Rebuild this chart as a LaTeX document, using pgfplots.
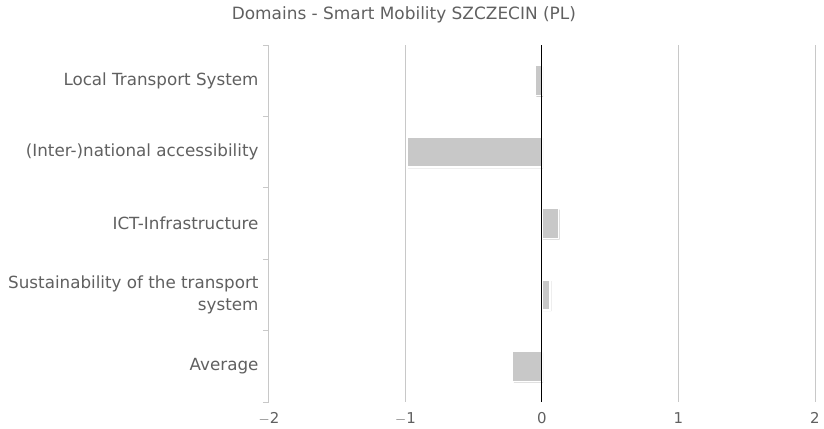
\documentclass[border=0pt]{standalone}
\usepackage{pgfplots}
\pgfplotsset{compat=1.18}
\usepackage{fontspec}
\setmainfont{DejaVu Sans}
\usetikzlibrary{shadows}
\definecolor{txt}{HTML}{606060}
\definecolor{gridc}{HTML}{C8C8C8}
\definecolor{barc}{HTML}{C8C8C8}
\begin{document}
\begin{tikzpicture}
\begin{axis}[
  scale only axis,
  width=546bp, height=357bp,
  xmin=-2, xmax=2,
  ymin=-0.5, ymax=4.5,
  y dir=reverse,
  xtick={-2,-1,0,1,2},
  xticklabels={$-$2,$-$1,0,1,2},
  ytick={0,1,2,3,4},
  yticklabels={Local Transport System,(Inter-)national accessibility,ICT-Infrastructure,{Sustainability of the transport\\system},Average},
  minor ytick={-0.5,0.5,1.5,2.5,3.5,4.5},
  major tick length=0pt,
  minor tick length=6bp,
  tick align=outside,
  minor tick style={gridc, line width=0.8bp},
  axis x line*=bottom,
  x axis line style={draw=none},
  axis y line*=left,
  y axis line style={gridc, line width=1bp, -},
  xmajorgrids,
  major grid style={gridc, line width=1bp},
  yticklabel style={font=\fontsize{16.8}{23}\selectfont, text=txt, align=right, xshift=-7bp},
  xticklabel style={font=\fontsize{15}{18}\selectfont, text=txt, yshift=-7bp},
  title={Domains - Smart Mobility SZCZECIN (PL)},
  title style={at={(0.247,1.068)}, anchor=center, font=\fontsize{17}{19}\selectfont, text=txt},
  xbar,
  bar width=30bp,
  clip=false,
]
\addplot[fill=barc, draw=white, line width=1.5bp,
  drop shadow={shadow xshift=1.2bp, shadow yshift=-1.2bp, opacity=0.25, fill=black}]
  coordinates {(-0.05,0) (-0.99,1) (0.12,2) (0.06,3) (-0.215,4)};
\draw[black, line width=1bp] (axis cs:0,-0.5) -- (axis cs:0,4.5);
\end{axis}
\path (current axis.south west) ++(-269bp,-27bp) coordinate (bl);
\path (current axis.north east) ++(9bp,45bp) coordinate (tr);
\useasboundingbox (bl) rectangle (tr);
\end{tikzpicture}
\end{document}
